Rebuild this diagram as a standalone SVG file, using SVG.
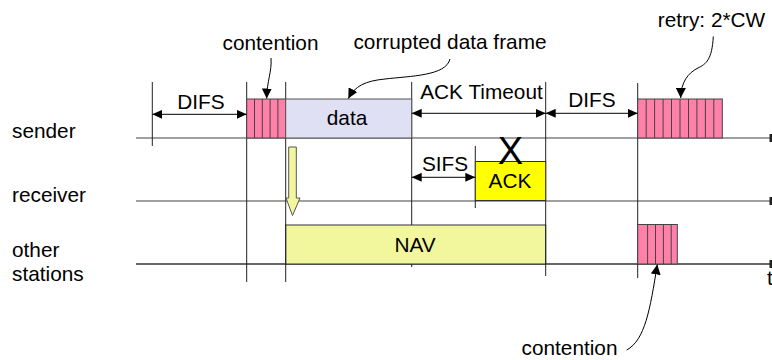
<svg xmlns="http://www.w3.org/2000/svg" width="772" height="360" viewBox="0 0 772 360">
<defs>
<marker id="ah" markerUnits="userSpaceOnUse" markerWidth="11" markerHeight="9" refX="10" refY="4.5" orient="auto-start-reverse" viewBox="0 0 11 9">
<path d="M0,0 L10,4.5 L0,9 z" fill="#000"/>
</marker>
<marker id="ah2" markerUnits="userSpaceOnUse" markerWidth="11" markerHeight="10" refX="10" refY="5" orient="auto" viewBox="0 0 11 10">
<path d="M0,0 L10,5 L0,10 z" fill="#000"/>
</marker>
</defs>
<style>
text{font-family:"Liberation Sans",Arial,sans-serif;font-size:20.8px;fill:#000}
.mid{text-anchor:middle}
.axis{stroke:#808080;stroke-width:1.6;fill:none}
.axis2{stroke:#333;stroke-width:1.3;fill:none}
.vl{stroke:#222;stroke-width:1;fill:none}
.pink{fill:#ff80a8;stroke:#444;stroke-width:1}
.stripe{stroke:#444;stroke-width:1}
.dim{stroke:#000;stroke-width:1;fill:none;marker-start:url(#ah);marker-end:url(#ah)}
.curve{stroke:#000;stroke-width:1;fill:none;marker-end:url(#ah2)}
</style>
<rect width="772" height="360" fill="#fff"/>

<g id="axes">
<line class="axis" x1="136" y1="138" x2="771" y2="138"/>
<line class="axis" x1="136" y1="201" x2="771" y2="201"/>
<line class="axis2" x1="136" y1="264" x2="771" y2="264"/>
<rect x="769.5" y="134" width="2.5" height="8" fill="#222"/>
<rect x="769.5" y="197" width="2.5" height="8" fill="#222"/>
<rect x="769.5" y="260" width="2.5" height="8" fill="#222"/>
<text x="767" y="285">t</text>
</g>

<g id="labels">
<text x="12" y="138">sender</text>
<text x="12" y="202">receiver</text>
<text x="12" y="257">other</text>
<text x="12" y="281">stations</text>
</g>

<g id="nav">
<rect x="285.7" y="225" width="260" height="39" fill="#f2f79e" stroke="#333" stroke-width="1"/>
<text class="mid" x="415" y="252">NAV</text>
</g>

<g id="gridlines">
<line class="vl" x1="152.3" y1="82" x2="152.3" y2="146"/>
<line class="vl" x1="246.7" y1="82" x2="246.7" y2="282"/>
<line class="vl" x1="285.7" y1="82" x2="285.7" y2="282"/>
<line class="vl" x1="411.7" y1="82" x2="411.7" y2="225"/>
<line class="vl" x1="411.7" y1="264" x2="411.7" y2="267"/>
<line class="vl" x1="475.3" y1="146" x2="475.3" y2="208"/>
<line class="vl" x1="545.7" y1="82" x2="545.7" y2="276"/>
<line class="vl" x1="637.7" y1="83" x2="637.7" y2="278" stroke="#555"/>
</g>

<g id="contention1">
<rect class="pink" x="246.7" y="99" width="39" height="39"/>
<line class="stripe" x1="254.5" y1="99" x2="254.5" y2="138"/>
<line class="stripe" x1="262.3" y1="99" x2="262.3" y2="138"/>
<line class="stripe" x1="270.1" y1="99" x2="270.1" y2="138"/>
<line class="stripe" x1="277.9" y1="99" x2="277.9" y2="138"/>
</g>

<g id="data">
<rect x="285.7" y="99" width="126" height="39" fill="#dfe0f4" stroke="#555" stroke-width="1"/>
<text class="mid" x="347" y="125">data</text>
</g>

<g id="ack">
<rect x="475.3" y="161.5" width="70.4" height="39" fill="#ffff00" stroke="#333" stroke-width="1"/>
<text class="mid" x="510" y="187.5">ACK</text>
<text class="mid" x="510.5" y="163.5" style="font-size:38px">X</text>
</g>

<g id="retry">
<rect class="pink" x="637.7" y="99" width="84.6" height="39"/>
<line class="stripe" x1="646.2" y1="99" x2="646.2" y2="138"/>
<line class="stripe" x1="654.6" y1="99" x2="654.6" y2="138"/>
<line class="stripe" x1="663.1" y1="99" x2="663.1" y2="138"/>
<line class="stripe" x1="671.5" y1="99" x2="671.5" y2="138"/>
<line class="stripe" x1="680" y1="99" x2="680" y2="138"/>
<line class="stripe" x1="688.5" y1="99" x2="688.5" y2="138"/>
<line class="stripe" x1="696.9" y1="99" x2="696.9" y2="138"/>
<line class="stripe" x1="705.4" y1="99" x2="705.4" y2="138"/>
<line class="stripe" x1="713.8" y1="99" x2="713.8" y2="138"/>
</g>

<g id="contention2">
<rect class="pink" x="637.7" y="224.5" width="39.6" height="39.5"/>
<line class="stripe" x1="647.6" y1="224.5" x2="647.6" y2="264"/>
<line class="stripe" x1="655.5" y1="224.5" x2="655.5" y2="264"/>
<line class="stripe" x1="663.4" y1="224.5" x2="663.4" y2="264"/>
<line class="stripe" x1="671.2" y1="224.5" x2="671.2" y2="264"/>
</g>

<g id="nav-arrow">
<path d="M288.7,147 L296.3,147 L296.3,198 L300,198 L292.5,215.5 L286,198 L288.7,198 z" fill="#f2f79e" stroke="#555" stroke-width="1"/>
</g>

<g id="annotations">
<text class="mid" x="270.5" y="50">contention</text>
<text class="mid" x="450" y="48.5">corrupted data frame</text>
<text class="mid" x="711.5" y="27">retry: 2*CW</text>
<text class="mid" x="569.5" y="355">contention</text>
<text class="mid" x="201" y="108.5">DIFS</text>
<text class="mid" x="481.5" y="99">ACK Timeout</text>
<text class="mid" x="592" y="106.7">DIFS</text>
<text class="mid" x="445" y="171">SIFS</text>
</g>

<g id="connectors">
<line class="dim" x1="152.3" y1="114.3" x2="246.7" y2="114.3"/>
<line class="dim" x1="411.7" y1="113.3" x2="545.7" y2="113.3"/>
<line class="dim" x1="545.7" y1="113.3" x2="637.7" y2="113.3"/>
<line class="dim" x1="411.7" y1="177.3" x2="475.3" y2="177.3"/>
<path class="curve" d="M271,58 C272,72 267,80 266.7,98.5"/>
<path class="curve" d="M450,59 C446,76 410,76 385,79 C365,81 355,86 348.3,98.5"/>
<path class="curve" d="M713.3,36.5 C712,60 706,64 698,68 C688,73 681,82 680.7,98"/>
<path class="curve" d="M626.7,350 C645,340 650,310 657.3,264.5"/>
</g>
</svg>
